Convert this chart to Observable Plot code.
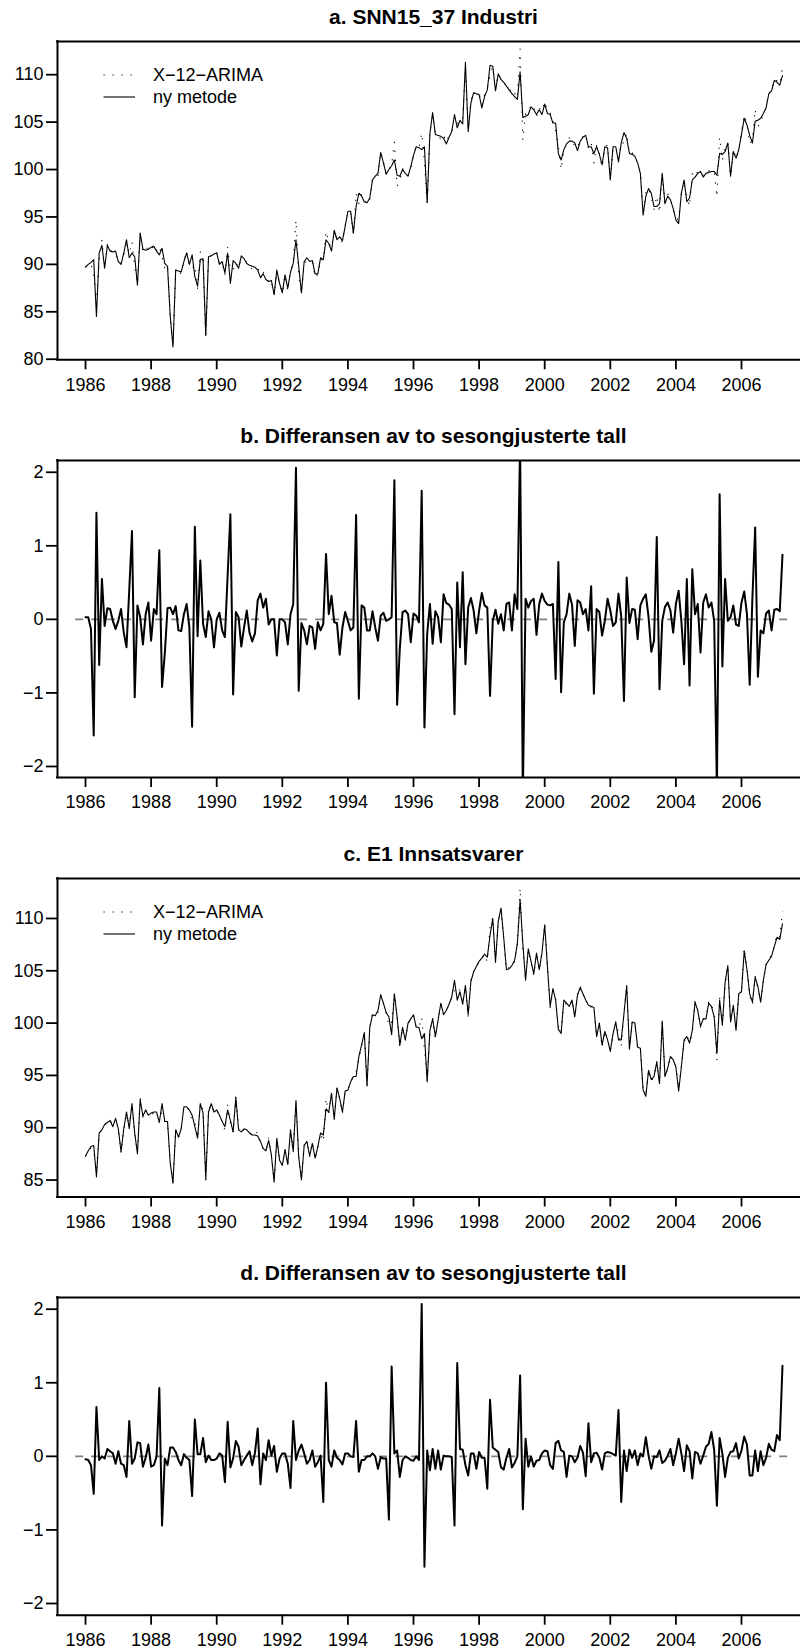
<!DOCTYPE html>
<html>
<head>
<meta charset="utf-8">
<script src="https://cdn.jsdelivr.net/npm/d3@7"></script>
<script src="https://cdn.jsdelivr.net/npm/@observablehq/plot@0.6"></script>
<style>
  body { margin: 0; background: #fff; color: #000; font-family: "Liberation Sans", Arimo, Arial, Helvetica, sans-serif; }
  #page { position: relative; width: 800px; height: 1650px; overflow: hidden; background: #fff; }
  .title { position: absolute; left: 57px; width: 753px; height: 24px; line-height: 24px; font-size: 21px; font-weight: bold; text-align: center; white-space: nowrap; }
  .panel { position: absolute; left: 0; }
  .legend { position: absolute; left: 103px; font-size: 18px; }
  .legend .row { position: absolute; left: 0; height: 20px; line-height: 20px; white-space: nowrap; display: flex; align-items: center; }
  .legend .row span { margin-left: 18px; }
</style>
</head>
<body>
<div id="page"></div>
<script>
// ---------------- data (monthly, Jan 1986 – Apr 2007) ----------------
const startYear = 1986;

// a. SNN15_37 Industri – "ny metode"
const industriNy = [
  89.7, 90.0, 90.2, 90.5, 84.5, 91.2, 92.0, 89.6, 92.0, 91.4, 91.3, 91.4,
  90.3, 90.0, 91.2, 92.6, 90.7, 91.2, 90.8, 87.8, 93.3, 91.6, 91.5, 91.6,
  91.8, 91.9, 91.4, 91.0, 91.7, 90.1, 89.8, 84.5, 81.3, 89.4, 89.3, 89.2,
  90.3, 91.2, 90.0, 91.0, 88.7, 87.7, 90.5, 90.6, 82.5, 90.8, 90.9, 91.1,
  91.2, 90.0, 90.3, 89.1, 91.2, 88.0, 90.4, 90.1, 89.6, 90.9, 90.6, 90.1,
  89.9, 89.8, 89.7, 89.4, 88.6, 89.0, 88.4, 88.2, 88.3, 86.8, 89.4, 88.0,
  87.0, 88.9, 87.5, 89.2, 90.1, 92.6, 89.8, 87.0, 90.3, 90.7, 90.3, 90.4,
  89.0, 89.0, 90.7, 90.5, 92.6, 92.2, 91.4, 93.6, 92.6, 92.9, 92.5, 94.0,
  95.6, 95.6, 93.3, 96.1, 97.5, 97.2, 96.6, 96.5, 97.0, 98.9, 99.3, 99.6,
  101.8, 100.7, 99.5, 100.0, 100.4, 101.0, 99.4, 99.3, 100.0, 99.6, 99.3, 100.3,
  101.5, 102.4, 102.3, 102.1, 102.4, 96.5, 103.8, 106.0, 103.7, 103.6, 103.5, 103.3,
  102.7, 103.4, 104.0, 105.8, 104.4, 105.2, 104.8, 111.3, 104.0, 107.0, 108.1, 108.0,
  107.9, 106.5, 107.7, 108.4, 111.0, 110.9, 108.3, 110.1, 109.5, 109.2, 108.8, 108.4,
  108.0, 107.7, 107.4, 110.3, 105.5, 105.6, 105.8, 106.6, 106.3, 105.8, 106.3, 105.8,
  106.9, 105.9, 105.8, 104.9, 104.9, 101.7, 101.0, 102.1, 102.7, 103.0, 103.0, 102.8,
  102.0, 103.0, 103.4, 103.6, 102.4, 102.4, 101.7, 102.4, 101.6, 100.5, 102.4, 102.3,
  98.9, 102.4, 102.4, 100.8, 102.8, 103.9, 103.3, 101.7, 101.6, 101.4, 100.7, 99.6,
  95.2, 97.2, 98.0, 97.5, 96.1, 96.1, 96.4, 99.6, 96.4, 97.2, 96.8, 95.9,
  94.7, 94.3, 97.5, 98.9, 96.6, 97.0, 98.9, 99.2, 99.6, 99.8, 99.2, 99.6,
  99.7, 99.8, 99.8, 99.4, 101.7, 101.6, 101.9, 102.8, 99.3, 101.9, 101.2, 102.1,
  103.7, 105.4, 104.7, 103.6, 102.8, 105.1, 105.2, 105.4, 105.9, 106.5, 108.0, 108.3,
  109.4, 109.2, 108.9, 109.9
];

// b. Differansen (X-12-ARIMA minus ny metode), Industri
const industriDiff = [
  0.03, 0.03, -0.13, -1.58, 1.45, -0.62, 0.55, -0.09, 0.15, 0.14, -0.02, -0.13,
  -0.02, 0.14, -0.18, -0.38, 0.40, 1.20, -1.06, 0.19, 0.03, -0.34, 0.07, 0.23,
  -0.29, 0.14, 0.07, 0.94, -0.92, -0.47, 0.15, 0.16, 0.07, 0.18, -0.15, -0.16,
  0.07, 0.21, -0.11, -1.46, 1.26, -0.23, 0.80, -0.06, -0.24, 0.11, 0.00, -0.38,
  0.00, 0.09, -0.15, -0.24, 0.60, 1.43, -1.02, 0.10, 0.03, -0.37, -0.11, 0.12,
  -0.18, -0.30, -0.19, 0.26, 0.35, 0.16, 0.28, -0.07, 0.00, 0.00, -0.49, 0.00,
  0.00, -0.04, -0.34, 0.07, 0.21, 2.06, -0.97, -0.05, -0.15, -0.34, -0.09, -0.11,
  -0.40, -0.04, -0.15, -0.06, 0.89, 0.07, 0.32, -0.04, -0.05, -0.48, -0.11, 0.10,
  -0.02, -0.15, -0.11, 1.42, -1.08, 0.19, 0.16, -0.15, -0.15, 0.11, -0.11, -0.29,
  0.05, 0.09, -0.02, 0.00, 0.03, 1.89, -1.16, -0.39, 0.10, 0.12, 0.07, -0.31,
  0.08, 0.05, -0.04, 1.75, -1.47, -0.20, 0.21, -0.33, 0.11, 0.03, -0.31, 0.34,
  0.22, 0.20, 0.14, -1.29, 0.50, -0.38, 0.64, -0.61, 0.16, 0.29, 0.12, -0.19,
  0.12, 0.36, 0.19, 0.16, -1.04, -0.02, 0.13, -0.06, 0.07, -0.15, 0.21, 0.23,
  -0.15, 0.34, 0.14, 2.40, -2.40, 0.28, 0.16, 0.25, 0.28, -0.21, 0.21, 0.35,
  0.25, 0.20, 0.19, 0.21, -0.81, 0.78, -0.99, -0.04, 0.07, 0.35, 0.20, -0.36,
  0.26, 0.23, 0.07, 0.14, -0.15, 0.45, -1.01, 0.14, 0.10, -0.22, -0.02, 0.28,
  0.12, -0.09, -0.04, 0.35, 0.04, -1.11, 0.57, -0.05, 0.14, 0.13, -0.27, 0.19,
  0.28, 0.34, 0.03, -0.44, -0.29, 1.12, -0.95, -0.02, 0.17, 0.23, 0.12, -0.18,
  0.21, 0.39, -0.02, -0.61, 0.55, -0.90, 0.68, 0.07, 0.21, -0.45, 0.23, 0.34,
  0.16, 0.23, -0.02, -2.30, 1.70, -0.64, 0.55, -0.02, 0.03, 0.19, -0.07, -0.09,
  0.23, 0.38, 0.07, -0.89, 0.30, 1.25, -0.78, -0.15, -0.19, 0.08, 0.12, -0.15,
  0.13, 0.14, 0.11, 0.88
];

// c. E1 Innsatsvarer – "ny metode"
const innsatsNy = [
  87.3, 87.8, 88.2, 88.3, 85.3, 89.5, 89.8, 90.3, 90.5, 90.7, 90.1, 90.9,
  89.9, 87.7, 89.9, 91.5, 89.9, 92.3, 89.5, 87.5, 92.7, 91.1, 91.7, 91.2,
  91.4, 91.5, 91.5, 90.5, 92.3, 90.6, 90.6, 86.6, 84.7, 89.8, 89.1, 89.9,
  92.0, 92.0, 91.7, 91.2, 90.1, 89.0, 92.3, 91.4, 85.1, 91.5, 92.3, 91.5,
  91.7, 91.2, 90.6, 90.1, 91.7, 90.7, 89.6, 92.9, 89.8, 89.6, 89.9, 89.8,
  89.5, 89.3, 89.3, 89.2, 88.7, 88.0, 87.8, 88.8, 87.4, 84.8, 89.0, 86.9,
  86.4, 87.9, 86.5, 89.8, 87.7, 92.6, 87.2, 85.0, 88.3, 88.7, 87.3, 88.5,
  87.1, 88.2, 89.5, 89.3, 91.8, 91.5, 93.3, 90.8, 93.8, 92.8, 91.5, 93.5,
  93.6, 94.4, 94.9, 94.9, 96.8, 97.9, 99.1, 94.0, 99.6, 100.8, 100.7, 101.2,
  102.7, 101.9, 101.0, 100.6, 98.9, 102.8, 100.6, 97.9, 99.6, 98.4, 100.0, 100.4,
  100.8, 99.6, 99.6, 98.5, 99.0, 94.4, 99.3, 100.4, 98.7, 100.3, 101.9, 100.8,
  101.2, 101.8, 102.5, 104.1, 102.2, 103.0, 101.8, 103.6, 100.8, 104.0, 104.9, 105.4,
  105.9, 106.2, 106.6, 106.3, 108.4, 110.0, 105.8, 109.7, 111.0, 108.2, 105.1, 105.2,
  105.5, 106.0, 107.6, 111.8, 107.6, 104.1, 107.1, 105.9, 104.7, 106.7, 105.1, 106.7,
  109.4, 105.4, 101.6, 103.3, 102.2, 99.4, 99.0, 102.2, 101.9, 101.6, 102.2, 100.6,
  102.7, 103.4, 102.8, 102.2, 101.7, 101.6, 101.5, 98.7, 100.0, 97.9, 99.2, 98.4,
  97.3, 99.0, 100.1, 98.4, 98.4, 100.9, 103.6, 97.5, 100.1, 100.0, 97.7, 97.6,
  93.6, 93.0, 95.5, 94.6, 94.9, 96.3, 94.2, 100.2, 94.9, 95.7, 96.8, 96.5,
  95.8, 93.5, 95.8, 98.4, 98.7, 98.1, 99.3, 102.0, 101.2, 99.7, 100.4, 100.4,
  101.9, 101.6, 100.6, 97.1, 102.2, 99.8, 103.9, 105.5, 100.1, 101.7, 99.3, 102.8,
  103.0, 106.9, 105.1, 102.8, 102.0, 104.4, 103.5, 102.0, 104.1, 105.6, 106.0, 106.4,
  107.3, 108.2, 108.0, 109.5
];

// d. Differansen (X-12-ARIMA minus ny metode), Innsatsvarer
const innsatsDiff = [
  -0.04, -0.05, -0.12, -0.51, 0.67, -0.05, 0.00, -0.03, 0.10, 0.07, 0.04, -0.10,
  0.07, -0.10, -0.12, -0.28, 0.48, -0.10, -0.03, 0.19, 0.18, -0.14, -0.02, 0.16,
  -0.14, -0.12, 0.00, 0.93, -0.94, -0.03, -0.12, 0.12, 0.12, 0.06, -0.05, -0.12,
  0.03, -0.02, -0.05, -0.54, 0.50, 0.03, 0.03, 0.25, -0.08, 0.01, -0.05, -0.05,
  -0.03, 0.04, 0.01, -0.35, 0.47, -0.15, -0.03, 0.21, 0.13, -0.12, -0.05, 0.01,
  0.07, -0.12, 0.05, 0.38, -0.38, 0.04, -0.05, 0.22, 0.01, 0.14, -0.21, -0.03,
  0.04, 0.04, -0.10, -0.43, 0.48, -0.05, 0.08, 0.16, 0.04, -0.10, -0.05, 0.08,
  -0.14, -0.08, 0.01, -0.62, 1.00, -0.05, -0.14, 0.08, -0.02, -0.05, -0.11, 0.04,
  0.04, 0.00, -0.01, 0.48, -0.21, -0.05, -0.05, 0.00, 0.00, 0.04, 0.00, -0.17,
  -0.01, -0.03, -0.03, -0.86, 1.22, 0.04, 0.08, -0.28, -0.05, 0.00, -0.02, -0.05,
  -0.06, 0.00, -0.05, 2.07, -1.50, 0.08, -0.19, 0.10, -0.17, 0.08, -0.18, 0.01,
  0.00, 0.00, -0.01, -0.94, 1.27, 0.10, 0.09, -0.12, -0.26, 0.04, 0.04, -0.17,
  0.06, -0.02, -0.02, -0.44, 0.77, 0.12, 0.09, 0.06, -0.15, -0.18, -0.02, 0.10,
  -0.15, -0.09, 0.00, 1.10, -0.72, 0.24, -0.14, 0.00, -0.14, -0.06, -0.05, 0.04,
  0.08, 0.07, -0.12, -0.17, 0.18, 0.21, 0.08, 0.06, -0.28, 0.01, 0.00, -0.08,
  -0.02, 0.14, 0.05, -0.27, 0.45, -0.08, 0.04, 0.05, -0.02, -0.18, 0.04, 0.06,
  0.05, 0.03, 0.01, 0.63, -0.62, 0.08, -0.20, 0.09, -0.02, 0.08, -0.12, 0.04,
  0.00, 0.26, 0.01, -0.17, 0.00, -0.01, 0.08, -0.09, -0.06, 0.01, 0.10, -0.12,
  0.04, 0.24, 0.04, -0.20, 0.15, 0.07, -0.30, 0.06, 0.04, -0.10, 0.01, 0.13,
  0.17, 0.33, 0.09, -0.67, 0.25, 0.04, -0.28, -0.02, 0.06, 0.07, 0.18, -0.03,
  0.08, 0.27, 0.16, -0.26, -0.26, 0.08, -0.20, 0.07, -0.12, -0.02, 0.17, 0.09,
  0.07, 0.29, 0.22, 1.23
];

// tick labels
const xTicks = [1986, 1988, 1990, 1992, 1994, 1996, 1998, 2000, 2002, 2004, 2006];
const yTicksIndustri = [80, 85, 90, 95, 100, 105, 110];
const yTicksInnsats = [85, 90, 95, 100, 105, 110];
const yTicksDiff = [-2, -1, 0, 1, 2];

// texts
const titles = [
  "a. SNN15_37 Industri",
  "b. Differansen av to sesongjusterte tall",
  "c. E1 Innsatsvarer",
  "d. Differansen av to sesongjusterte tall"
];
const legendLabels = ["X\u221212\u2212ARIMA", "ny metode"];

// ---------------- derived ----------------
const time = industriNy.map((_, i) => startYear + i / 12);
const industriX12 = industriNy.map((v, i) => v + industriDiff[i]);
const innsatsX12 = innsatsNy.map((v, i) => v + innsatsDiff[i]);

// ---------------- layout ----------------
const xDomain = [1985.146, 2007.799];
const zeroFrom = 1985.7, zeroTo = 2007.5;
const fontFamily = '"Liberation Sans", Arimo, Arial, Helvetica, sans-serif';
const intFormat = d => (d < 0 ? "\u2212" : "") + Math.abs(d);
const page = document.getElementById("page");

function addPanel({boxTop, boxBottom, yDomain, yTicks, title, marks, legend}) {
  const t = document.createElement("div");
  t.className = "title";
  t.style.top = (boxTop - 24 - 12) + "px";
  t.textContent = title;
  page.appendChild(t);

  const marginTop = 10, marginBottom = 50;
  const height = (boxBottom - boxTop) + marginTop + marginBottom;
  const svg = Plot.plot({
    width: 800,
    height,
    marginLeft: 57,
    marginRight: 0,
    marginTop,
    marginBottom,
    style: {fontFamily, fontSize: "18px", color: "#000", background: "transparent", overflow: "visible"},
    x: {domain: xDomain},
    y: {domain: yDomain},
    marks: [
      ...marks,
      Plot.ruleX([xDomain[0]], {stroke: "#000", strokeWidth: 2, strokeLinecap: "square"}),
      Plot.ruleY(yDomain, {stroke: "#000", strokeWidth: 2, strokeLinecap: "square"}),
      Plot.axisX(xTicks, {tickSize: 10, tickPadding: 8, strokeWidth: 1.8, fontSize: 18, tickFormat: d => String(d), label: null}),
      Plot.axisY(yTicks, {tickSize: 11, tickPadding: 3, strokeWidth: 1.8, fontSize: 18, tickFormat: intFormat, label: null})
    ]
  });
  const holder = document.createElement("div");
  holder.className = "panel";
  holder.style.top = (boxTop - marginTop) + "px";
  holder.appendChild(svg);
  page.appendChild(holder);

  if (legend) {
    const lg = document.createElement("div");
    lg.className = "legend";
    lg.style.top = boxTop + "px";
    const rows = [{y: 34, dash: "1.2,7.8", label: legendLabels[0]}, {y: 56, dash: null, label: legendLabels[1]}];
    for (const r of rows) {
      const row = document.createElement("div");
      row.className = "row";
      row.style.top = (r.y - 10) + "px";
      row.innerHTML = `<svg width="32" height="4" style="display:block"><line x1="0.5" y1="2" x2="32" y2="2" stroke="#000" stroke-width="1.1" ${r.dash ? `stroke-dasharray="${r.dash}"` : ""}/></svg><span>${r.label}</span>`;
      lg.appendChild(row);
    }
    page.appendChild(lg);
  }
}

function levelMarks(ny, x12) {
  return [
    Plot.line(x12, {x: time, y: x12, stroke: "#000", strokeWidth: 1.1, strokeDasharray: "1.2,7.8", strokeLinecap: "butt", clip: true}),
    Plot.line(ny, {x: time, y: ny, stroke: "#000", strokeWidth: 1.1, clip: true})
  ];
}
function diffMarks(diff) {
  return [
    Plot.ruleY([0], {x1: zeroFrom, x2: zeroTo, stroke: "#808080", strokeWidth: 1.8, strokeDasharray: "8,8"}),
    Plot.line(diff, {x: time, y: diff, stroke: "#000", strokeWidth: 2, clip: true})
  ];
}

addPanel({boxTop: 41, boxBottom: 359.3, yDomain: [79.94, 113.5], yTicks: yTicksIndustri, title: titles[0], marks: levelMarks(industriNy, industriX12), legend: true});
addPanel({boxTop: 460, boxBottom: 777, yDomain: [-2.15, 2.16], yTicks: yTicksDiff, title: titles[1], marks: diffMarks(industriDiff)});
addPanel({boxTop: 878.3, boxBottom: 1196.8, yDomain: [83.38, 113.82], yTicks: yTicksInnsats, title: titles[2], marks: levelMarks(innsatsNy, innsatsX12), legend: true});
addPanel({boxTop: 1297.3, boxBottom: 1615, yDomain: [-2.159, 2.159], yTicks: yTicksDiff, title: titles[3], marks: diffMarks(innsatsDiff)});
</script>
</body>
</html>
